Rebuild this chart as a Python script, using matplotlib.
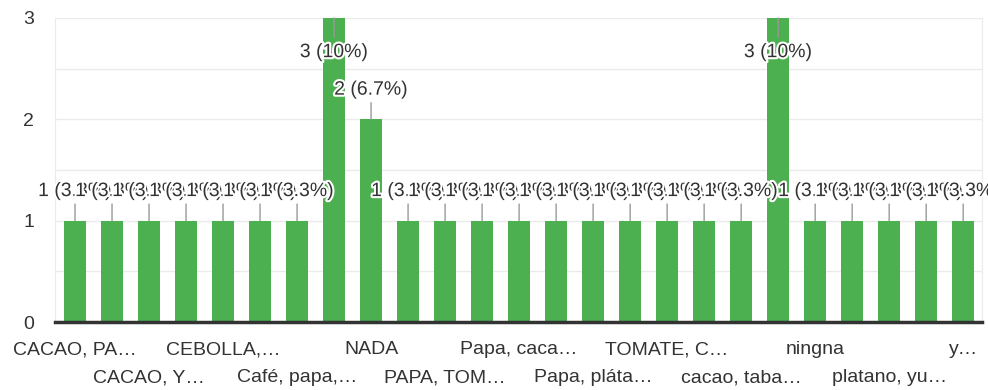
import matplotlib

matplotlib.use('Agg')
import matplotlib.pyplot as plt
import matplotlib.patheffects as pe

plt.rcParams['font.family'] = ['Liberation Sans', 'DejaVu Sans']

# etiquetas visibles (las impares no se muestran en el original)
labels = ['CACAO, PA…', '', 'CACAO, Y…', '', 'CEBOLLA,…', '', 'Café, papa,…', '',
          'NADA', '', 'PAPA, TOM…', '', 'Papa, caca…', '', 'Papa, pláta…', '',
          'TOMATE, C…', '', 'cacao, taba…', '', 'ningna', '', 'platano, yu…', '', 'y…']
counts = [1, 1, 1, 1, 1, 1, 1, 3, 2, 1, 1, 1, 1, 1, 1, 1, 1, 1, 1, 3, 1, 1, 1, 1, 1]
pct = ['3.3%', '3.3%', '3.3%', '3.3%', '3.3%', '3.3%', '3.3%', '10%', '6.7%', '3.3%',
       '3.3%', '3.3%', '3.3%', '3.3%', '3.3%', '3.3%', '3.3%', '3.3%', '3.3%', '10%',
       '3.3%', '3.3%', '3.3%', '3.3%', '3.3%']

green = '#4caf50'
txt = '#333333'
fs = 14

fig = plt.figure(figsize=(9.88, 3.9), dpi=100)
ax = fig.add_axes([0.0557, 0.174, 0.9383, 0.780])
x = list(range(len(counts)))
ax.bar(x, counts, width=0.6, color=green, zorder=2)

ax.set_xlim(-0.54, len(counts) - 0.49)
ax.set_ylim(0, 3)
ax.set_yticks([0, 1, 2, 3])
ax.set_yticks([0.5, 1.5, 2.5], minor=True)
ax.tick_params(axis='y', which='both', length=0, labelsize=fs, pad=15, colors=txt)
ax.set_xticks([])
ax.grid(axis='y', which='both', color='#ebebeb', lw=1, zorder=0)
for s in ['left', 'right', 'top']:
    ax.spines[s].set_color('#ebebeb')
ax.spines['top'].set_visible(False)
ax.spines['bottom'].set_color('#333333')
ax.spines['bottom'].set_linewidth(2.5)
ax.spines['bottom'].set_zorder(3)

halo = [pe.withStroke(linewidth=3, foreground='white')]
for i, (c, p) in enumerate(zip(counts, pct)):
    s = f'{c} ({p})'
    if c >= 3:
        # barra al tope: etiqueta dentro de la barra
        ax.annotate('', xy=(i, c), xytext=(0, -14), textcoords='offset points',
                    arrowprops=dict(arrowstyle='-', color='#999999', lw=1, shrinkA=0, shrinkB=0),
                    zorder=4)
        ax.annotate(s, xy=(i, c), xytext=(0, -25), textcoords='offset points',
                    ha='center', va='center', fontsize=fs, color=txt,
                    path_effects=halo, zorder=5)
    else:
        ax.annotate('', xy=(i, c), xytext=(0, 12), textcoords='offset points',
                    arrowprops=dict(arrowstyle='-', color='#999999', lw=1, shrinkA=0, shrinkB=0),
                    zorder=4)
        ax.annotate(s, xy=(i, c), xytext=(0, 21), textcoords='offset points',
                    ha='center', va='center', fontsize=fs, color=txt,
                    path_effects=halo, zorder=5, annotation_clip=False)

for i, lab in enumerate(labels):
    if not lab:
        continue
    off = -20 if i % 4 == 0 else -40
    ax.annotate(lab, xy=(i, 0), xycoords=('data', 'axes fraction'),
                xytext=(0, off), textcoords='offset points',
                ha='center', va='center', fontsize=fs, color=txt, annotation_clip=False)

plt.savefig('out.png', dpi=100)
